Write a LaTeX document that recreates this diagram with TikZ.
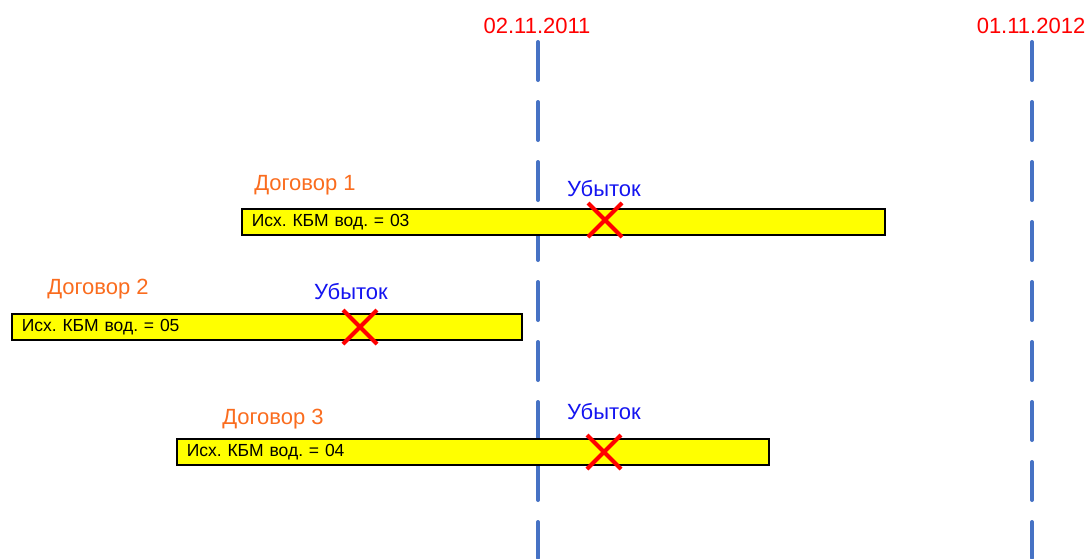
\documentclass[tikz,border=0pt]{standalone}
\usepackage{fontspec}
\setmainfont{Liberation Sans}
\frenchspacing
\definecolor{datered}{RGB}{255,0,0}
\definecolor{dogorange}{RGB}{250,108,30}
\definecolor{lossblue}{RGB}{20,20,240}
\definecolor{lineblue}{RGB}{70,114,196}
\definecolor{barfill}{RGB}{255,255,0}
\tikzset{
  dateline/.style={lineblue, line width=4pt, line cap=round, dash pattern=on 38pt off 22pt},
  datelabel/.style={text=datered, font=\fontsize{22}{26}\selectfont, inner sep=0pt},
  contract/.style={draw=black, line width=1.5pt, fill=barfill, minimum height=26pt,
    inner sep=0pt, font=\fontsize{17.5}{20}\selectfont, anchor=north west},
  dogname/.style={text=dogorange, font=\fontsize{22}{26}\selectfont, inner sep=0pt},
  loss/.style={text=lossblue, font=\fontsize{22}{26}\selectfont, inner sep=0pt},
  lossmark/.style={datered, line width=4pt}
}
\begin{document}
\begin{tikzpicture}[x=1pt,y=-1pt]
  \useasboundingbox (0,0) rectangle (1092,558);
  % dates
  \node[datelabel] (d1) at (537,26) {02.11.2011};
  \node[datelabel] (d2) at (1031,26) {01.11.2012};
  \coordinate (e1) at (538,558);
  \coordinate (e2) at (1032,558);
  \draw[dateline] (538,42) -- (e1);
  \draw[dateline] (1032,42) -- (e2);
  % contract 1
  \node[contract, minimum width=643pt, text width=623pt, align=left] (bar1) at (241,208) {Исх. КБМ вод. = 03};
  \node[dogname] (dog1) at (305,185) {Договор 1};
  \node[loss] (loss1) at (604,189) {Убыток};
  \draw[lossmark] (588,203) -- (622,237) (588,237) -- (622,203);
  % contract 2
  \node[contract, minimum width=510pt, text width=490pt, align=left] (bar2) at (11,313) {Исх. КБМ вод. = 05};
  \node[dogname] (dog2) at (98,289) {Договор 2};
  \node[loss] (loss2) at (351,292) {Убыток};
  \draw[lossmark] (343,310) -- (377,344) (343,344) -- (377,310);
  % contract 3
  \node[contract, minimum width=592pt, text width=572pt, align=left] (bar3) at (176,438) {Исх. КБМ вод. = 04};
  \node[dogname] (dog3) at (273,419) {Договор 3};
  \node[loss] (loss3) at (604,412) {Убыток};
  \draw[lossmark] (587,435) -- (621,469) (587,469) -- (621,435);
\end{tikzpicture}
\end{document}
